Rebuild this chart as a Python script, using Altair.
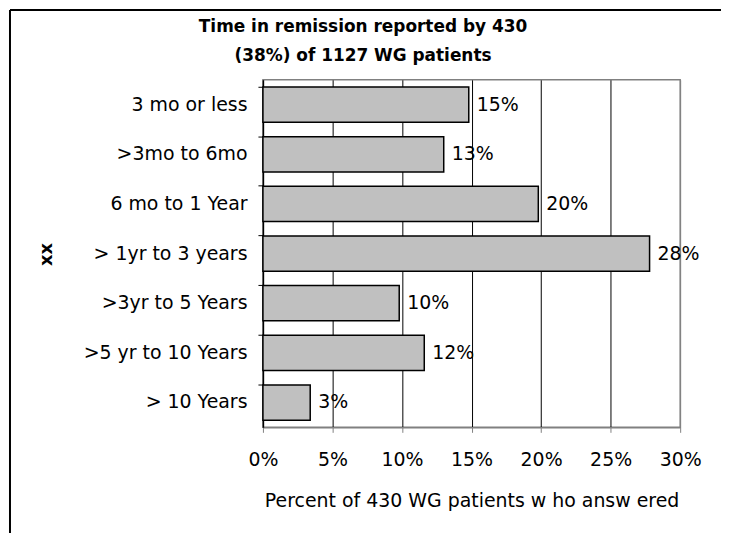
import altair as alt
import pandas as pd

categories = ["3 mo or less", ">3mo to 6mo", "6 mo to 1 Year", "> 1yr to 3 years",
              ">3yr to 5 Years", ">5 yr to 10 Years", "> 10 Years"]
values = [14.8, 13.0, 19.8, 27.8, 9.8, 11.6, 3.4]
labels = ["15%", "13%", "20%", "28%", "10%", "12%", "3%"]
x_ticks = [0, 5, 10, 15, 20, 25, 30]

df = pd.DataFrame({"category": categories, "value": values, "label": labels})

FONT = "DejaVu Sans"

x_enc = alt.X(
    "value:Q",
    scale=alt.Scale(domain=[0, 30], nice=False, zero=True),
    axis=alt.Axis(
        values=x_ticks,
        labelExpr="datum.value + '%'",
        title="Percent of 430 WG patients w ho answ ered",
        grid=True,
        gridColor={"condition": {"test": "datum.value >= 30 || datum.value <= 0", "value": "#808080"},
                   "value": "black"},
        gridWidth=1,
        domainColor="#808080",
        domainWidth=1.5,
        tickColor="#808080",
        tickSize=5,
        labelPadding=18,
        labelFlush=False,
        labelOverlap=False,
        labelFont=FONT,
        labelFontSize=19,
        labelColor="black",
        titleFont=FONT,
        titleFontSize=19,
        titleFontWeight="normal",
        titleColor="black",
        titlePadding=22,
    ),
)
y_enc = alt.Y(
    "category:N",
    sort=categories,
    scale=alt.Scale(paddingInner=0.29, paddingOuter=0.145),
    axis=alt.Axis(
        title="xx",
        bandPosition=0,
        domainColor="black",
        domainWidth=1.5,
        tickColor="black",
        tickSize=5,
        labelPadding=11,
        labelFont=FONT,
        labelFontSize=19,
        labelColor="black",
        titleFont=FONT,
        titleFontSize=18,
        titleFontWeight="bold",
        titleColor="black",
        titleX=-217,
        titleY=175,
        titleAlign="center",
        titleBaseline="middle",
        grid=False,
    ),
)

base = alt.Chart(df)
bars = base.mark_bar(color="#c0c0c0", stroke="black", strokeWidth=1.5).encode(x=x_enc, y=y_enc)
text = base.mark_text(align="left", baseline="middle", dx=8, fontSize=19, font=FONT, color="black").encode(
    x="value:Q", y=alt.Y("category:N", sort=categories), text="label:N"
)

one = pd.DataFrame({"a": [0]})
frame_left = alt.Chart(one).mark_rule(color="black", strokeWidth=2).encode(
    x=alt.value(-254), y=alt.value(-70), y2=alt.value(460))
frame_top = alt.Chart(one).mark_rule(color="black", strokeWidth=2).encode(
    x=alt.value(-254), x2=alt.value(461), y=alt.value(-70))
frame_right = alt.Chart(one).mark_rule(color="black", strokeWidth=2).encode(
    x=alt.value(461), y=alt.value(-70), y2=alt.value(460))

chart = alt.layer(bars, text, frame_left, frame_top, frame_right).properties(
    width=419,
    height=349,
    autosize=alt.AutoSizeParams(type="none"),
    padding={"left": 256, "top": 71, "right": 41, "bottom": 105},
    title=alt.TitleParams(
        ["Time in remission reported by 430", "(38%) of 1127 WG patients"],
        font=FONT, fontSize=17, fontWeight="bold", color="black",
        anchor="middle", dx=-109, dy=70, lineHeight=29, offset=14,
    ),
).configure_view(stroke="#808080", strokeWidth=1.5)

chart.save("out.html", embed_options={"renderer": "svg", "actions": False})
